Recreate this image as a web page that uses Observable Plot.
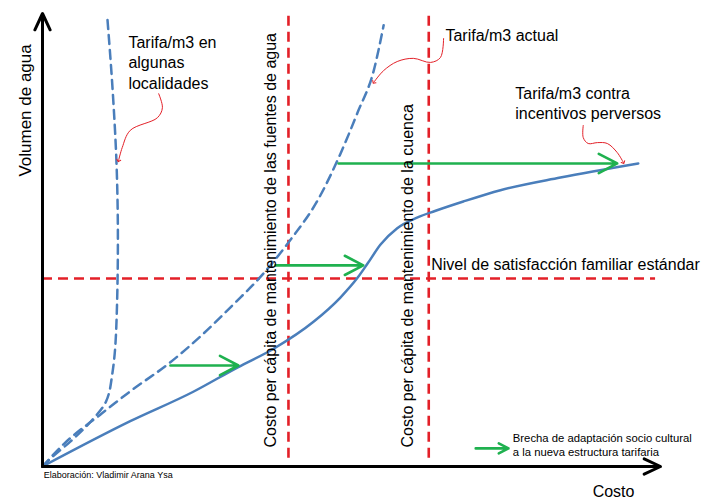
<!DOCTYPE html>
<html><head><meta charset="utf-8">
<script src="https://cdn.jsdelivr.net/npm/d3@7"></script>
<script src="https://cdn.jsdelivr.net/npm/@observablehq/plot@0.6"></script>
<style>body{margin:0;background:#fff}#chart svg{display:block}</style>
</head><body><div id="chart"></div>
<script>
// Conceptual units: costo (x) and volumen de agua (y), both 0–100
const tarifaContraIncentivos = [[0,0],[14.2,10.0],[24.4,16.5],[31.6,21.9],[37.4,26.0],[43.9,32.0],[48.2,37.3],[51.0,41.7],[52.6,44.8],[54.7,49.0],[57.4,52.6],[60.7,55.0],[63.5,56.4],[68.1,58.5],[74.1,61.0],[83.8,63.8],[96.4,66.9]];
const tarifaActual = [[0,0],[3.4,4.9],[9.4,11.5],[14.2,16.6],[20.4,22.7],[26.1,29.4],[30.9,35.8],[35.3,41.9],[40.1,50.0],[44.5,58.7],[48.2,69.0],[51.0,78.2],[53.6,87.4],[55.2,97.4]];
const tarifaLocalidades = [[0,0],[1.5,2.0],[4.5,5.5],[8.0,10.2],[10.3,14.4],[11.3,20.5],[12.0,33.0],[12.2,50.0],[12.0,66.0],[11.4,82.0],[10.5,98.9]];
const costosPerCapita = [39.8, 62.5];
const costosLabels = ["Costo per cápita de mantenimiento de las fuentes de agua","Costo per cápita de mantenimiento de la cuenca"];
const costosLabelX = [36.9, 59.2];
const nivelSatisfaccion = 41.5;
const brechas = [{y:22.3,x1:20.7,x2:31.7},{y:44.4,x1:37.7,x2:51.9},{y:66.9,x1:47.9,x2:93.0}];
const leyendaFlecha = {y:4.0,x1:70.1,x2:75.4};
const anotaciones = [
  {text:"Tarifa/m3 en", x:13.9, y:92.3},
  {text:"algunas", x:13.9, y:87.9},
  {text:"localidades", x:13.9, y:83.4},
  {text:"Tarifa/m3 actual", x:65.2, y:94.0},
  {text:"Tarifa/m3 contra", x:76.5, y:81.2},
  {text:"incentivos perversos", x:76.5, y:76.8},
  {text:"Nivel de satisfacción familiar estándar", x:62.9, y:43.3}
];
const curvasRojas = [
  [[18.8,82.3],[19.4,79.2],[18.6,77.0],[14.2,74.2],[12.9,70.4],[12.3,67.5]],
  [[64.9,94.5],[64.4,90.3],[62.8,89.2],[60.0,90.1],[57.4,89.4],[55.2,87.4],[53.6,84.8]],
  [[87.5,75.3],[87.5,72.6],[88.3,71.3],[89.8,71.5],[91.4,71.3],[93.0,69.3],[94.0,67.1]]
];
const leyendaTexto = [{text:"Brecha de adaptación socio cultural", y:5.3},{text:"a la nueva estructura tarifaria", y:2.4}];
const leyendaX = 76.1;

const BLUE = "#4a7ebb", RED = "#e32028", GREEN = "#1fb14f";
const FONT = "Liberation Sans, Arial, sans-serif";

const pts = a => a.map(([x,y]) => ({x,y}));

const chart = Plot.plot({
  width: 714, height: 500,
  marginLeft: 42, marginRight: 54, marginTop: 13, marginBottom: 34,
  x: {domain: [0,100], axis: null},
  y: {domain: [0,100], axis: null},
  style: {fontFamily: FONT, background: "#fff"},
  marks: [
    // red dashed references
    Plot.ruleX(costosPerCapita, {y1: 1.8, y2: 100, stroke: RED, strokeWidth: 2.6, strokeDasharray: "10,6"}),
    Plot.ruleY([nivelSatisfaccion], {x1: 0, x2: 99.2, stroke: RED, strokeWidth: 2.6, strokeDasharray: "10,6"}),
    // curves
    Plot.line(pts(tarifaLocalidades), {x:"x", y:"y", stroke: BLUE, strokeWidth: 2.5, strokeDasharray: "9,6", curve: "monotone-y"}),
    Plot.line(pts(tarifaActual), {x:"x", y:"y", stroke: BLUE, strokeWidth: 2.5, strokeDasharray: "9,6", curve: "monotone-x"}),
    Plot.line(pts(tarifaContraIncentivos), {x:"x", y:"y", stroke: BLUE, strokeWidth: 2.5, curve: "monotone-x"}),
    // green gap arrows
    Plot.arrow(brechas, {x1:"x1", x2:"x2", y1:"y", y2:"y", stroke: GREEN, strokeWidth: 2.6, headLength: 12, headAngle: 55}),
    Plot.arrow([leyendaFlecha], {x1:"x1", x2:"x2", y1:"y", y2:"y", stroke: GREEN, strokeWidth: 2.6, headLength: 11, headAngle: 55}),
    // red annotation pointers
    ...curvasRojas.map(c => Plot.line(pts(c), {x:"x", y:"y", stroke: RED, strokeWidth: 1, curve: "catmull-rom", markerEnd: "arrow"})),
    // axes
    Plot.arrow([{x1:0,y1:0,x2:0,y2:100}], {x1:"x1",y1:"y1",x2:"x2",y2:"y2", stroke:"black", strokeWidth:3, headLength: 9, headAngle: 50}),
    Plot.arrow([{x1:0,y1:0,x2:100,y2:0}], {x1:"x1",y1:"y1",x2:"x2",y2:"y2", stroke:"black", strokeWidth:3, headLength: 9, headAngle: 50}),
    // vertical cost labels
    Plot.text(costosLabels.map((t,i)=>({t, x: costosLabelX[i]})), {x:"x", y: 4.2, text:"t", rotate:-90, textAnchor:"start", lineAnchor:"middle", fontSize: 16, fill:"black"}),
    // annotations
    Plot.text(anotaciones, {x:"x", y:"y", text:"text", textAnchor:"start", lineAnchor:"bottom", fontSize: 16, fill:"black"}),
    Plot.text(leyendaTexto, {x: leyendaX, y:"y", text:"text", textAnchor:"start", lineAnchor:"bottom", fontSize: 11.3, fill:"black"}),
    // axis titles and credit
    Plot.text(["Volumen de agua"], {x: -2.75, y: 78.6, text: d=>d, rotate:-90, textAnchor:"middle", lineAnchor:"middle", fontSize: 17, fill:"black"}),
    Plot.text(["Costo"], {x: 92.4, y: -6.8, text: d=>d, textAnchor:"middle", lineAnchor:"bottom", fontSize: 16, fill:"black"}),
    Plot.text(["Elaboración: Vladimir Arana Ysa"], {x: 0.2, y: -2.6, text: d=>d, textAnchor:"start", lineAnchor:"bottom", fontSize: 9, fill:"black"})
  ]
});
document.getElementById("chart").appendChild(chart);
</script>
</body></html>
